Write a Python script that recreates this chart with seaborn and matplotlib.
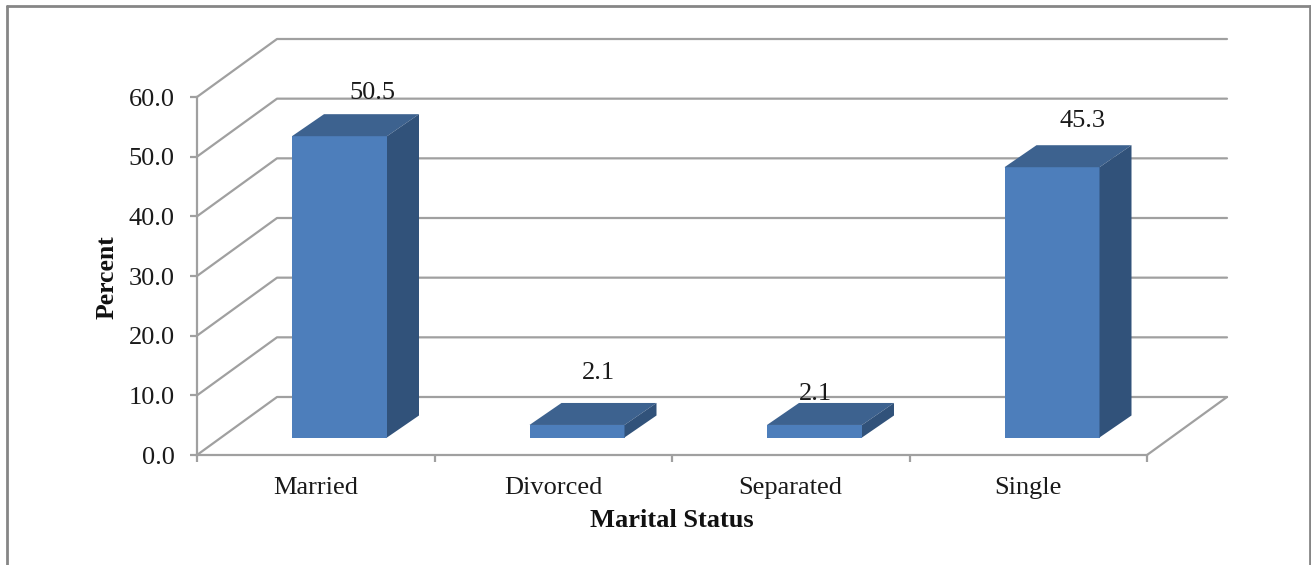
import matplotlib
matplotlib.use("Agg")
import matplotlib.pyplot as plt
from matplotlib.lines import Line2D
from matplotlib.patches import Polygon
import pandas as pd
import seaborn as sns

# values
status = ["Married", "Divorced", "Separated", "Single"]
percent = [50.5, 2.1, 2.1, 45.3]
y_ticks = [0, 10, 20, 30, 40, 50, 60]

# hand placed data labels in the original, pixels from the bar top
label_dx = [33, 21, 1, 30]
label_dy = [43, 52, 31, 46]

W, H = 1311, 565
x0_px, x1_px = 197, 1147
y0_px, y1_px = 455, 97

sns.set_theme(style="white")
plt.rcParams["font.family"] = ["Liberation Serif", "DejaVu Serif"]

GRID = "#a0a0a0"
FRAME = "#868686"
FRONT, TOP, SIDE = "#4d7ebb", "#3d628f", "#31527a"
TEXT = "#1a1a1a"

df = pd.DataFrame({"status": status, "percent": percent})

fig = plt.figure(figsize=(W / 100, H / 100), dpi=100, facecolor="white")
ax = fig.add_axes([x0_px / W, 1 - y0_px / H, (x1_px - x0_px) / W, (y0_px - y1_px) / H])

# bars live in a second axes, pushed back into the floor
shift_x, shift_y = 23.75, 17.5
bx = fig.add_axes([(x0_px + shift_x) / W, 1 - (y0_px - shift_y) / H,
                   (x1_px - x0_px) / W, (y0_px - y1_px) / H])
sns.barplot(data=df, x="status", y="percent", color=FRONT, saturation=1, width=0.4,
            linewidth=0, ax=bx)
bx.set_xlim(-0.5, 3.5)
bx.set_ylim(0, 60)
bx.axis("off")
bx.patch.set_alpha(0)

sns.barplot(data=df, x="status", y="percent", alpha=0, linewidth=0, ax=ax)
ax.set_xlim(-0.5, 3.5)
ax.set_ylim(0, 60)

px_x = (x1_px - x0_px) / 4
px_y = (y0_px - y1_px) / 60

# walls and floor of the fake 3d box
wall_dx, wall_dy = 80 / px_x, 58 / px_y
for v in y_ticks:
    ax.plot([-0.5, -0.5 + wall_dx, 3.5 + wall_dx], [v, v + wall_dy, v + wall_dy],
            color=GRID, lw=1.6, clip_on=False, zorder=1)
ax.plot([3.5, 3.5 + wall_dx], [0, wall_dy], color=GRID, lw=1.6, clip_on=False, zorder=1)

# top and side faces from the bars seaborn drew
bar_dx, bar_dy = 32 / px_x, 22 / px_y
for p in list(bx.patches):
    a, b = p.get_x(), p.get_x() + p.get_width()
    h = p.get_height()
    bx.add_patch(Polygon([(a, h), (a + bar_dx, h + bar_dy), (b + bar_dx, h + bar_dy), (b, h)],
                         closed=True, fc=TOP, ec="none", clip_on=False))
    bx.add_patch(Polygon([(b, 0), (b + bar_dx, bar_dy), (b + bar_dx, h + bar_dy), (b, h)],
                         closed=True, fc=SIDE, ec="none", clip_on=False))

for i, v in enumerate(percent):
    bx.annotate(f"{v:.1f}", xy=(i, v), xytext=(label_dx[i], label_dy[i]),
                textcoords="offset pixels", ha="center", va="center",
                fontsize=19, color=TEXT, annotation_clip=False)

sns.despine(ax=ax, top=True, right=True)
for side in ["left", "bottom"]:
    ax.spines[side].set_color(GRID)
    ax.spines[side].set_linewidth(1.6)

ax.set_yticks(y_ticks)
ax.set_yticklabels([f"{v:.1f}" for v in y_ticks], fontsize=19, color=TEXT)
ax.tick_params(axis="y", left=True, length=5, width=1.6, color=GRID, pad=11)
ax.set_xticks(range(4))
ax.set_xticklabels(status, fontsize=19, color=TEXT)
ax.tick_params(axis="x", bottom=False, pad=9.5)
ax.set_xticks([-0.5, 0.5, 1.5, 2.5, 3.5], minor=True)
ax.tick_params(axis="x", which="minor", bottom=True, length=5, width=1.6, color=GRID)

ax.set_xlabel("Marital Status", fontsize=19, fontweight="bold", color="#111111")
ax.set_ylabel("Percent", fontsize=18.5, fontweight="bold", color="#111111")
ax.xaxis.set_label_coords((672 - x0_px) / (x1_px - x0_px), (y0_px - 509) / (y0_px - y1_px))
ax.yaxis.set_label_coords((119 - x0_px) / (x1_px - x0_px), (y0_px - 277) / (y0_px - y1_px))

# outer chart frame, cut off at the bottom of the image
for xs, ys in [([7, 7], [565, 6]), ([7, 1310], [6, 6]), ([1310, 1310], [6, 565])]:
    fig.add_artist(Line2D([x / W for x in xs], [1 - y / H for y in ys],
                          color=FRAME, lw=2, transform=fig.transFigure))

fig.savefig("out.png", dpi=100, facecolor="white")
